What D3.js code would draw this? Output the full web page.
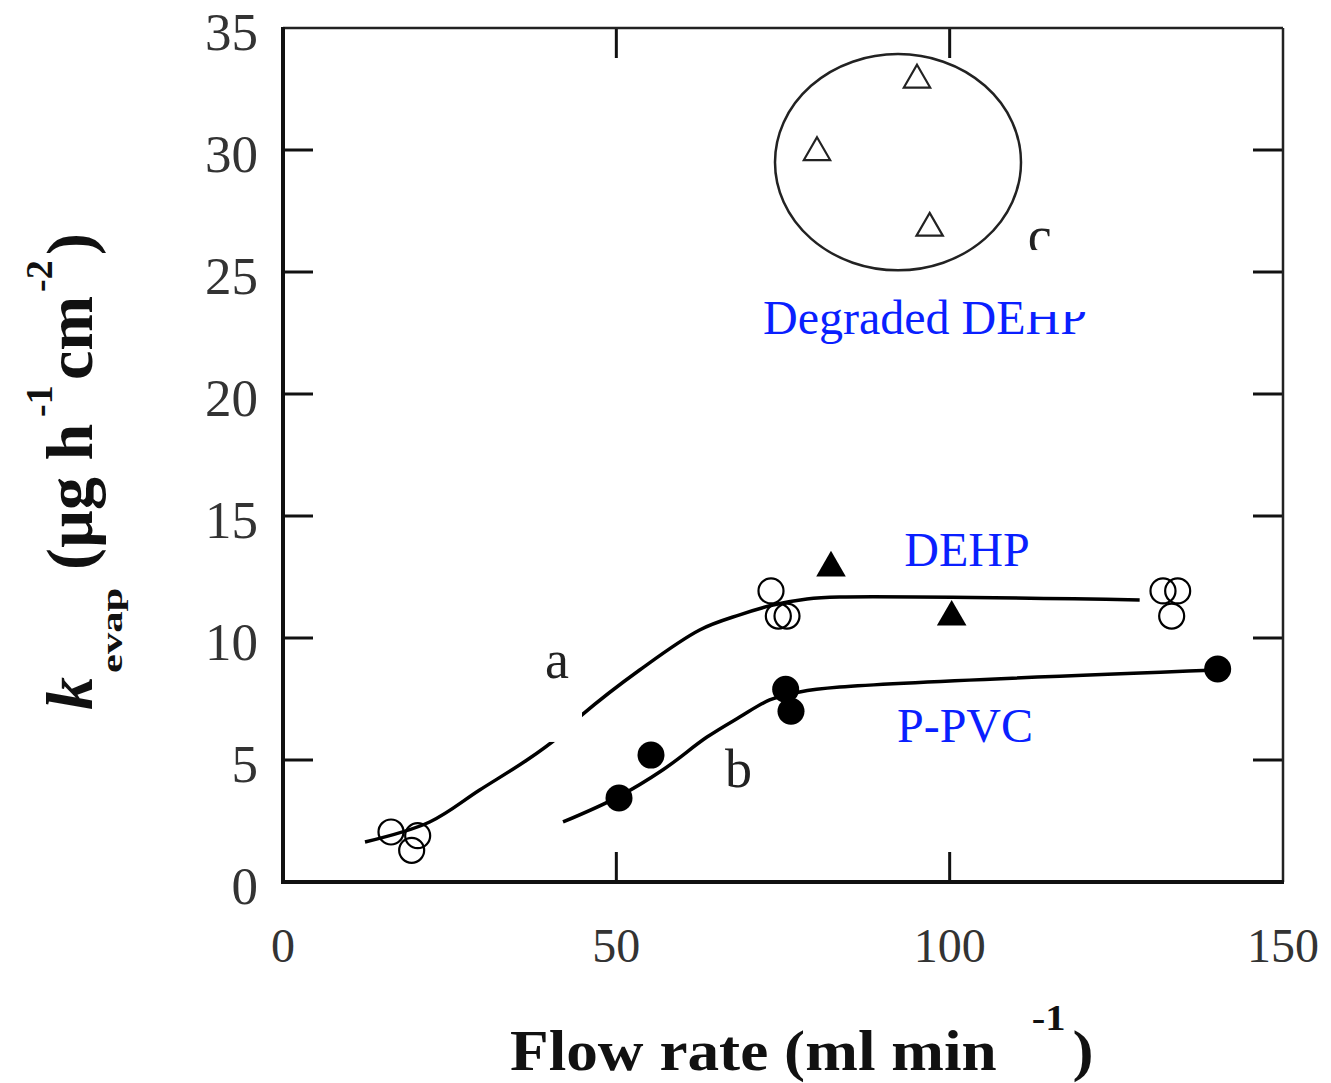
<!DOCTYPE html>
<html>
<head>
<meta charset="utf-8">
<script src="https://cdn.jsdelivr.net/npm/d3@7"></script>
<style>
  body { margin: 0; background: #fff; }
  svg { display: block; font-family: "Liberation Serif", "Times New Roman", serif; }
</style>
</head>
<body>
<svg id="chart" width="1331" height="1083"></svg>
<script>
// open circles, curve a (P-PVC in DEHP)
const openCircles = [
  [16.2, 2.05], [20.2, 1.9], [19.3, 1.3],
  [73.2, 11.93], [74.3, 10.9], [75.6, 10.9],
  [132.0, 11.93], [134.2, 11.93], [133.3, 10.9]
];
// filled circles, curve b
const filledCircles = [
  [50.4, 3.44], [55.2, 5.2], [75.4, 7.9], [76.2, 7.0], [140.2, 8.73]
];
const filledTriangles = [[82.2, 12.87], [100.3, 10.86]];
const openTriangles = [[95.1, 32.87], [80.1, 29.9], [97.0, 26.8]];

const curveA = [
  [12.3, 1.64], [22.0, 2.46], [29.5, 3.77], [36.6, 5.0], [41.1, 5.9],
  [44.8, 6.84], [53.5, 8.69], [62.5, 10.33], [68.5, 10.95], [73.5, 11.35],
  [78.6, 11.6], [83.5, 11.68], [128.5, 11.56]
];
const curveB = [
  [42.0, 2.46], [50.2, 3.48], [57.0, 4.6], [63.6, 5.94], [68.5, 6.76],
  [73.0, 7.46], [77.5, 7.79], [83.5, 7.99], [140.2, 8.69]
];

// ellipse around degraded points: center, radii (data units)
const ellipseC = [92.25, 29.5];
const ellipseR = [18.45, 4.43];

const xTicks = [0, 50, 100, 150];
const yTicks = [0, 5, 10, 15, 20, 25, 30, 35];

const curveLabels = [
  { text: "a", at: [39.3, 8.36] },
  { text: "b", at: [66.3, 3.89] },
  { text: "c", at: [111.7, 25.74] }
];
const blueLabels = [
  { text: "DEHP", at: [102.6, 12.95], anchor: "middle" },
  { text: "P-PVC", at: [102.3, 5.74], anchor: "middle" },
  { text: "Degraded DEHP", at: [72.0, 22.46], anchor: "start" }
];
// white patches present in the source figure (data units)
const masks = [
  { x0: 38.5, x1: 44.85, y0: 5.74, y1: 7.83 },
  { x0: 111.4, x1: 122.5, y0: 23.36, y1: 25.9 }
];

const svg = d3.select("#chart");
const x = d3.scaleLinear().domain([0, 150]).range([283, 1283]);
const y = d3.scaleLinear().domain([0, 35]).range([882, 28]);
const tickLen = 30;

// ticks inward on all sides
const g = svg.append("g");
yTicks.slice(1, -1).forEach(v => {
  g.append("line").attr("x1", x(0)).attr("x2", x(0) + tickLen)
    .attr("y1", y(v)).attr("y2", y(v)).attr("stroke", "#111").attr("stroke-width", 3);
  g.append("line").attr("x1", x(150)).attr("x2", x(150) - tickLen)
    .attr("y1", y(v)).attr("y2", y(v)).attr("stroke", "#111").attr("stroke-width", 3);
});
xTicks.slice(1, -1).forEach(v => {
  g.append("line").attr("x1", x(v)).attr("x2", x(v))
    .attr("y1", y(0)).attr("y2", y(0) - tickLen).attr("stroke", "#111").attr("stroke-width", 3);
  g.append("line").attr("x1", x(v)).attr("x2", x(v))
    .attr("y1", y(35)).attr("y2", y(35) + tickLen).attr("stroke", "#111").attr("stroke-width", 3);
});

// frame
g.append("line").attr("x1", x(0)).attr("x2", x(150)).attr("y1", y(35)).attr("y2", y(35))
  .attr("stroke", "#222").attr("stroke-width", 2.5);
g.append("line").attr("x1", x(150)).attr("x2", x(150)).attr("y1", y(35)).attr("y2", y(0))
  .attr("stroke", "#222").attr("stroke-width", 2.5);
g.append("line").attr("x1", x(0)).attr("x2", x(0)).attr("y1", y(35) - 1).attr("y2", y(0) + 2)
  .attr("stroke", "#111").attr("stroke-width", 4);
g.append("line").attr("x1", x(0) - 2).attr("x2", x(150) + 1).attr("y1", y(0)).attr("y2", y(0))
  .attr("stroke", "#111").attr("stroke-width", 4);

// tick labels
svg.append("g").selectAll("text").data(yTicks).join("text")
  .attr("x", 258).attr("y", d => y(d) + 22)
  .attr("text-anchor", "end").attr("font-size", 53).attr("fill", "#333")
  .text(d => d);
svg.append("g").selectAll("text").data(xTicks).join("text")
  .attr("x", d => x(d)).attr("y", 962)
  .attr("text-anchor", "middle").attr("font-size", 48).attr("fill", "#333")
  .text(d => d);

// curves
const line = d3.line().x(d => x(d[0])).y(d => y(d[1])).curve(d3.curveCatmullRom.alpha(0.5));
[curveA, curveB].forEach(c => {
  svg.append("path").attr("d", line(c)).attr("fill", "none")
    .attr("stroke", "#000").attr("stroke-width", 3.5);
});

// ellipse
svg.append("ellipse")
  .attr("cx", x(ellipseC[0])).attr("cy", y(ellipseC[1]))
  .attr("rx", x(ellipseR[0]) - x(0)).attr("ry", y(0) - y(ellipseR[1]))
  .attr("fill", "none").attr("stroke", "#222").attr("stroke-width", 2.5);

// markers
svg.append("g").selectAll("circle").data(openCircles).join("circle")
  .attr("cx", d => x(d[0])).attr("cy", d => y(d[1])).attr("r", 12.5)
  .attr("fill", "none").attr("stroke", "#000").attr("stroke-width", 2.2);
svg.append("g").selectAll("circle").data(filledCircles).join("circle")
  .attr("cx", d => x(d[0])).attr("cy", d => y(d[1])).attr("r", 13.5)
  .attr("fill", "#000");
const tri = d3.symbol(d3.symbolTriangle, 380);
svg.append("g").selectAll("path").data(filledTriangles).join("path")
  .attr("transform", d => `translate(${x(d[0])},${y(d[1])})`)
  .attr("d", tri).attr("fill", "#000");
const triO = d3.symbol(d3.symbolTriangle, 300);
svg.append("g").selectAll("path").data(openTriangles).join("path")
  .attr("transform", d => `translate(${x(d[0])},${y(d[1])})`)
  .attr("d", triO).attr("fill", "none").attr("stroke", "#222").attr("stroke-width", 2.2);

// curve labels
svg.append("g").selectAll("text").data(curveLabels).join("text")
  .attr("x", d => x(d.at[0])).attr("y", d => y(d.at[1]))
  .attr("font-size", 54).attr("fill", "#222").text(d => d.text);

// blue labels
svg.append("g").selectAll("text").data(blueLabels).join("text")
  .attr("x", d => x(d.at[0])).attr("y", d => y(d.at[1]))
  .attr("text-anchor", d => d.anchor)
  .attr("font-size", 48).attr("fill", "#0a1fff").text(d => d.text);

// white patches
svg.append("g").selectAll("rect").data(masks).join("rect")
  .attr("x", d => x(d.x0)).attr("width", d => x(d.x1) - x(d.x0))
  .attr("y", d => y(d.y1)).attr("height", d => y(d.y0) - y(d.y1))
  .attr("fill", "#fff");

// x axis title (source type is stretched horizontally)
const xt = svg.append("text").attr("transform", "translate(510,1070) scale(1.13,1)")
  .attr("font-size", 56).attr("font-weight", "bold").attr("fill", "#111");
xt.append("tspan").text("Flow rate (ml min");
xt.append("tspan").attr("dx", 31).attr("dy", -40).attr("font-size", 36).text("-1");
xt.append("tspan").attr("dx", 6).attr("dy", 40).text(")");

// y axis title, pieces placed along the rotated baseline
const yt = svg.append("g").attr("transform", "translate(92,710) rotate(-90)")
  .attr("font-weight", "bold").attr("fill", "#111");
yt.append("text").attr("font-size", 66).attr("font-style", "italic").text("k");
yt.append("text").attr("transform", "translate(37,30) scale(1.42,1)")
  .attr("font-size", 30).text("evap");
yt.append("text").attr("x", 140).attr("font-size", 66).text("(µg h");
yt.append("text").attr("x", 293).attr("y", -40).attr("font-size", 38).text("-1");
yt.append("text").attr("x", 330).attr("font-size", 66).text("cm");
yt.append("text").attr("x", 418).attr("y", -40).attr("font-size", 38).text("-2");
yt.append("text").attr("x", 455).attr("font-size", 66).text(")");
</script>
</body>
</html>
